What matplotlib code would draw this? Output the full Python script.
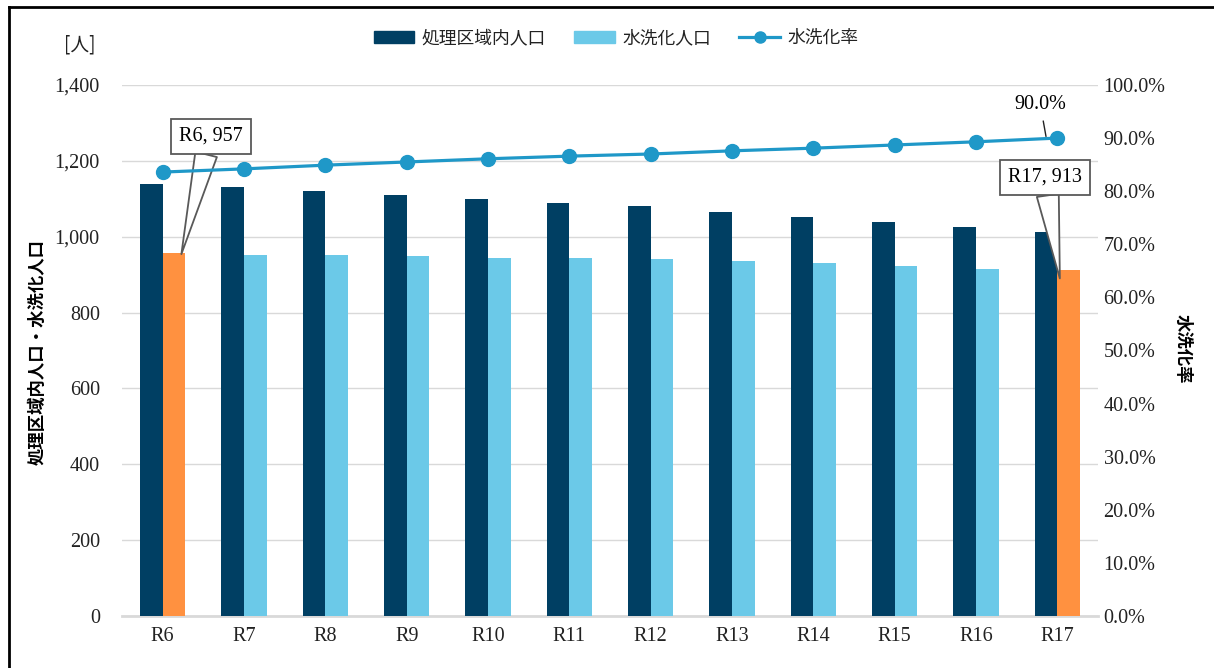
import numpy as np
import matplotlib
matplotlib.use("Agg")
import matplotlib.pyplot as plt
from matplotlib.lines import Line2D
from matplotlib.patches import Patch

# data
years = ["R6", "R7", "R8", "R9", "R10", "R11", "R12", "R13", "R14", "R15", "R16", "R17"]
pop_area = [1140, 1131, 1120, 1110, 1100, 1089, 1081, 1065, 1052, 1039, 1026, 1012]
pop_flush = [957, 953, 951, 948, 945, 943, 940, 935, 930, 923, 916, 913]
flush_rate = [83.6, 84.2, 84.9, 85.5, 86.1, 86.6, 87.0, 87.6, 88.1, 88.7, 89.3, 90.0]

DARK = "#003f63"
LIGHT = "#6bc9e8"
ORANGE = "#ff9140"
LINE = "#1f98c8"
JP = ["Noto Sans CJK JP", "DejaVu Sans"]
NUM = ["Liberation Serif", "DejaVu Serif"]
W, H = 1214, 668

fig = plt.figure(figsize=(W / 100, H / 100), dpi=100)
ax = fig.add_axes([0.1005, 0.0778, 0.804, 0.795])
ax2 = ax.twinx()

x = np.arange(len(years))
w = 0.28
ax.bar(x - w / 2, pop_area, w, color=DARK, zorder=3)
cols = [ORANGE if i in (0, len(years) - 1) else LIGHT for i in range(len(years))]
ax.bar(x + w / 2, pop_flush, w, color=cols, zorder=3)

ax.set_xlim(-0.5, len(years) - 0.5)
ax.set_ylim(0, 1400)
ax.set_yticks(range(0, 1401, 200))
ax.set_yticklabels([f"{v:,}" for v in range(0, 1401, 200)], fontfamily=NUM, fontsize=14.5)
ax.set_xticks(x)
ax.set_xticklabels(years, fontfamily=NUM, fontsize=14.5)
ax.tick_params(axis="both", length=0, colors="#222222")
ax.tick_params(axis="y", pad=16)
ax.tick_params(axis="x", pad=8)
ax.grid(axis="y", color="#d9d9d9", lw=1, zorder=0)
for s in ["top", "left", "right"]:
    ax.spines[s].set_visible(False)
ax.spines["bottom"].set_color("#d9d9d9")
ax.spines["bottom"].set_linewidth(2)

ax2.plot(x, flush_rate, color=LINE, lw=2.3, marker="o", ms=10, zorder=5)
ax2.set_ylim(0, 100)
ax2.set_yticks(range(0, 101, 10))
ax2.set_yticklabels([f"{v:.1f}%" for v in range(0, 101, 10)], fontfamily=NUM, fontsize=14.5)
ax2.tick_params(axis="y", length=0, pad=4, colors="#222222")
for s in ["top", "left", "right", "bottom"]:
    ax2.spines[s].set_visible(False)

# axis titles
fig.text(38 / W, 1 - 352 / H, "処理区域内人口・水洗化人口", fontfamily=JP, fontsize=12.5,
         fontweight="bold", rotation=90, ha="center", va="center")
fig.text(1183 / W, 1 - 349 / H, "水洗化率", fontfamily=JP, fontsize=12.5,
         fontweight="bold", rotation=270, ha="center", va="center")
fig.text(80 / W, 1 - 45 / H, "[人]", fontfamily=JP, fontsize=13.5,
         ha="center", va="center", color="#222222")

# callouts
bbox = dict(boxstyle="square,pad=0.4", fc="white", ec="#595959", lw=1.3)
arrow = dict(arrowstyle="wedge,tail_width=1.1,shrink_factor=0.5",
             fc="white", ec="#595959", lw=1.3, shrinkA=0, shrinkB=0)
ax.annotate(f"{years[0]}, {pop_flush[0]}", xy=(x[0] + 0.23, pop_flush[0] - 3),
            xytext=(x[0] + 0.59, 1265), ha="center", va="center",
            fontfamily=NUM, fontsize=14.5, bbox=bbox, arrowprops=arrow, zorder=6)
ax.annotate(f"{years[-1]}, {pop_flush[-1]}", xy=(x[-1] + 0.03, 890),
            xytext=(x[-1] - 0.15, 1157), ha="center", va="center",
            fontfamily=NUM, fontsize=14.5, bbox=bbox, arrowprops=arrow, zorder=6)
ax2.annotate(f"{flush_rate[-1]:.1f}%", xy=(x[-1] - 0.14, flush_rate[-1] + 0.3),
             xytext=(x[-1] - 0.21, 96.3), ha="center", va="center",
             fontfamily=NUM, fontsize=14.5,
             arrowprops=dict(arrowstyle="-", color="#222222", lw=1, shrinkA=3, shrinkB=0))

handles = [Patch(color=DARK), Patch(color=LIGHT),
           Line2D([], [], color=LINE, lw=2.3, marker="o", ms=8)]
fig.legend(handles, ["処理区域内人口", "水洗化人口", "水洗化率"],
           loc="center", bbox_to_anchor=(616 / W, 1 - 38 / H), ncol=3,
           frameon=False, prop={"family": JP, "size": 12.8}, handlelength=2.3,
           handleheight=0.65, columnspacing=1.6, handletextpad=0.4,
           labelcolor="#222222")

# outer frame (left and top edges)
fig.add_artist(Line2D([9 / W, 9 / W], [0, 1 - 7 / H], color="black", lw=2))
fig.add_artist(Line2D([9 / W, 1], [1 - 7 / H, 1 - 7 / H], color="black", lw=2))

fig.savefig("out.png", dpi=100)
